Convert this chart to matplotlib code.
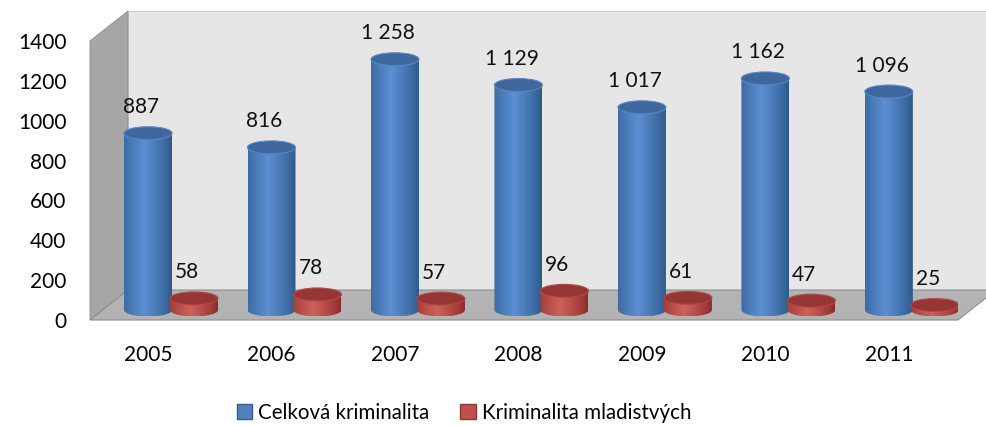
import matplotlib
matplotlib.use("Agg")
import numpy as np
import matplotlib.pyplot as plt
from matplotlib.patches import Polygon, Ellipse, Patch

years = ["2005", "2006", "2007", "2008", "2009", "2010", "2011"]
celkova = [887, 816, 1258, 1129, 1017, 1162, 1096]
mladistvi = [58, 78, 57, 96, 61, 47, 25]
series_names = ["Celková kriminalita", "Kriminalita mladistvých"]
yticks = [0, 200, 400, 600, 800, 1000, 1200, 1400]

plt.rcParams["font.family"] = ["Lato", "DejaVu Sans"]

W, H = 987, 425
fig = plt.figure(figsize=(W / 100, H / 100), dpi=100)
ax = fig.add_axes([90 / W, 1 - 320 / H, (958 - 90) / W, (320 - 41) / H])
ax.set_xlim(-0.47, 6.56)
ax.set_ylim(0, 1400)
ax.patch.set_visible(False)
for s in ax.spines.values():
    s.set_visible(False)

px_x = 123.5          # pixels per category
px_y = 279 / 1400     # pixels per value unit
DX, DY = 38 / px_x, 30 / px_y   # depth offset of the back wall
x0, x1 = ax.get_xlim()

# walls and floor
left_wall = Polygon([(x0, 0), (x0, 1400), (x0 + DX, 1400 + DY), (x0 + DX, DY)],
                    closed=True, fc="#a6a6a6", ec="#8c8c8c", lw=0.6, clip_on=False, zorder=0)
back_wall = Polygon([(x0 + DX, DY), (x0 + DX, 1400 + DY), (x1 + 0.3, 1400 + DY), (x1 + 0.3, DY)],
                    closed=True, fc="#e6e6e6", ec="#c8c8c8", lw=0.6, clip_on=False, zorder=0)
floor = Polygon([(x0, 0), (x0 + DX, DY), (x1 + DX, DY), (x1, 0)],
                closed=True, fc="#b3b3b3", ec="#8f8f8f", lw=0.8, clip_on=False, zorder=1)
for p in (back_wall, left_wall, floor):
    ax.add_patch(p)

base = DY / 3
bw = 48 / px_x
eh = 13 / px_y


def cylinder(xc, val, c_edge, c_mid, c_top, c_topedge, z):
    xl, xr = xc - bw / 2, xc + bw / 2
    yt = base + val
    t = np.linspace(np.pi, 2 * np.pi, 40)
    bottom = [(xc + bw / 2 * np.cos(a), base + eh / 2 * np.sin(a)) for a in t]
    pts = [(xl, yt)] + bottom + [(xr, yt)]
    clip = Polygon(pts, closed=True, fc="none", ec="none", transform=ax.transData)
    ax.add_patch(clip)
    g = np.linspace(0, 1, 64)
    prof = np.clip(1 - np.abs(g - 0.42) / 0.58, 0, 1) ** 0.8
    ce, cm = np.array(matplotlib.colors.to_rgb(c_edge)), np.array(matplotlib.colors.to_rgb(c_mid))
    img = ce[None, :] + (cm - ce)[None, :] * prof[:, None]
    im = ax.imshow(img[None, :, :], extent=[xl, xr, base - eh / 2, yt], aspect="auto",
                   interpolation="bilinear", zorder=z)
    im.set_clip_path(clip)
    ax.add_patch(Ellipse((xc, yt), bw, eh, fc=c_top, ec=c_topedge, lw=0.8, zorder=z + 0.1))


xs = np.arange(len(years))
for i in xs:
    cylinder(i, celkova[i], "#2d5889", "#5b8fd3", "#3d679d", "#5a86c0", 3)
    cylinder(i + 46 / px_x, mladistvi[i], "#8a2b29", "#d0605c", "#953634", "#b04a47", 4)
    lab = "{:,}".format(celkova[i]).replace(",", " ")
    ax.text(i - 7 / px_x, base + celkova[i] + 26 / px_y, lab, ha="center", va="center",
            fontsize=15, color="#111111", zorder=6)
    ax.text(i + 39 / px_x, base + mladistvi[i] + 26 / px_y, str(mladistvi[i]), ha="center",
            va="center", fontsize=15, color="#111111", zorder=6)

ax.set_yticks(yticks)
ax.set_yticklabels([str(v) for v in yticks])
ax.set_xticks(xs)
ax.set_xticklabels(years)
ax.tick_params(axis="y", length=0, pad=17, labelsize=15)
ax.tick_params(axis="x", length=0, pad=18, labelsize=15)

handles = [Patch(fc="#4f81bd", ec="#385d8a", label=series_names[0]),
           Patch(fc="#c0504d", ec="#8c3836", label=series_names[1])]
fig.legend(handles=handles, loc="center", bbox_to_anchor=(0.470, 0.028), ncol=2, frameon=False,
           fontsize=14.8, handlelength=0.75, handleheight=0.75, handletextpad=0.3, columnspacing=1.5)

fig.savefig("out.png", dpi=100)
